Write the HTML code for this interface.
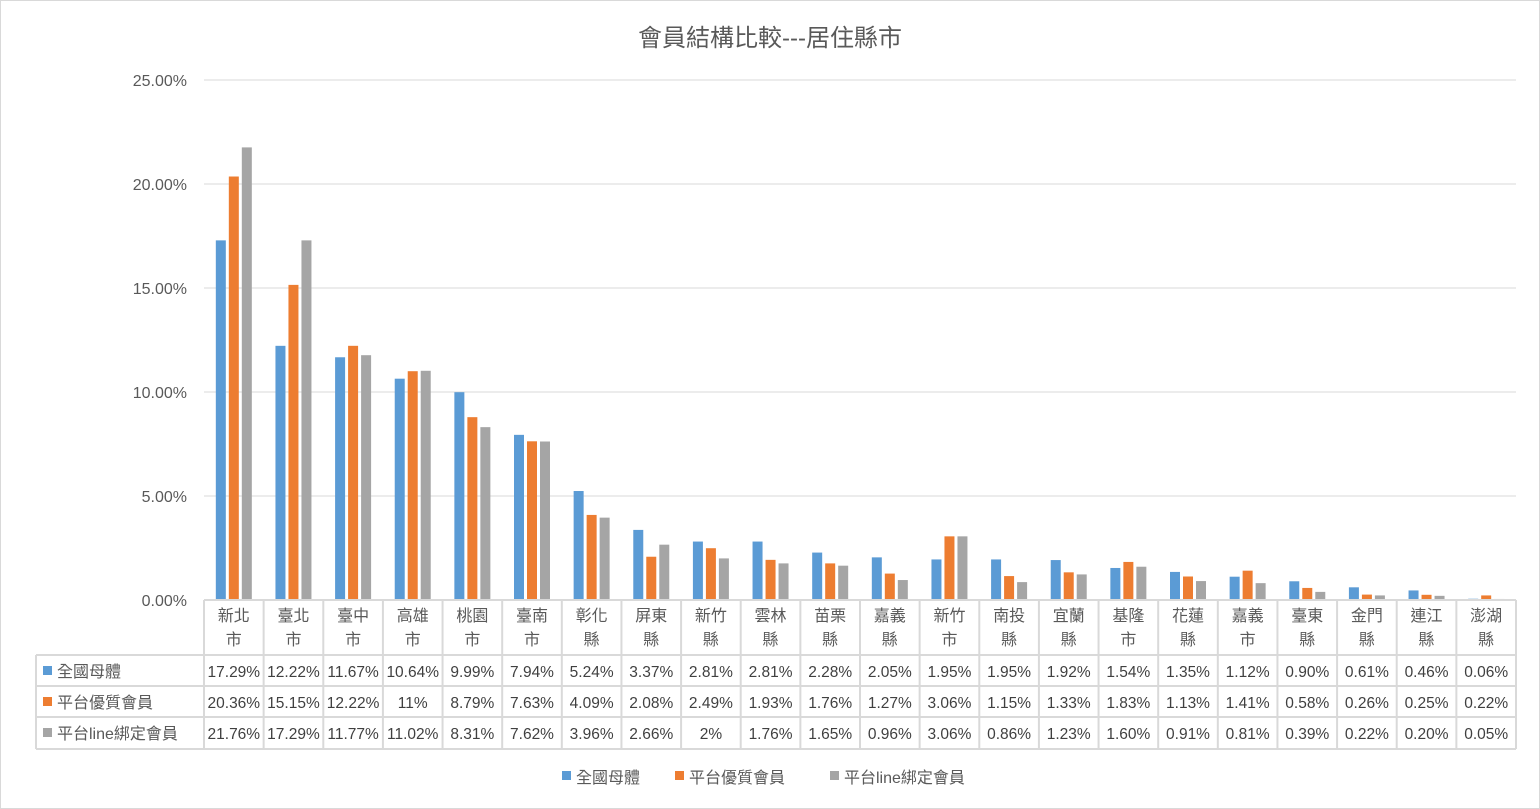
<!DOCTYPE html>
<html><head><meta charset="utf-8">
<style>
html,body{margin:0;padding:0;background:#fff;}
svg{display:block;font-family:"Liberation Sans","Noto Sans CJK TC",sans-serif;}
</style></head>
<body>
<svg id="chart" width="1540" height="809" viewBox="0 0 1540 809">
<rect x="0.5" y="0.5" width="1539" height="808" fill="#fff" stroke="#d9d9d9"/>
<text x="770" y="46" text-anchor="middle" font-size="24" fill="#595959">會員結構比較---居住縣市</text>
<g id="grid"></g><g id="bars"></g><g id="table"></g><g id="legend"></g>
</svg>
<script>
const categories=[["新北","市"],["臺北","市"],["臺中","市"],["高雄","市"],["桃園","市"],["臺南","市"],["彰化","縣"],["屏東","縣"],["新竹","縣"],["雲林","縣"],["苗栗","縣"],["嘉義","縣"],["新竹","市"],["南投","縣"],["宜蘭","縣"],["基隆","市"],["花蓮","縣"],["嘉義","市"],["臺東","縣"],["金門","縣"],["連江","縣"],["澎湖","縣"]];
const seriesNames=["全國母體","平台優質會員","平台line綁定會員"];
const s1=[17.29,12.22,11.67,10.64,9.99,7.94,5.24,3.37,2.81,2.81,2.28,2.05,1.95,1.95,1.92,1.54,1.35,1.12,0.90,0.61,0.46,0.06];
const s2=[20.36,15.15,12.22,11,8.79,7.63,4.09,2.08,2.49,1.93,1.76,1.27,3.06,1.15,1.33,1.83,1.13,1.41,0.58,0.26,0.25,0.22];
const s3=[21.76,17.29,11.77,11.02,8.31,7.62,3.96,2.66,2,1.76,1.65,0.96,3.06,0.86,1.23,1.60,0.91,0.81,0.39,0.22,0.20,0.05];
const l1=["17.29%","12.22%","11.67%","10.64%","9.99%","7.94%","5.24%","3.37%","2.81%","2.81%","2.28%","2.05%","1.95%","1.95%","1.92%","1.54%","1.35%","1.12%","0.90%","0.61%","0.46%","0.06%"];
const l2=["20.36%","15.15%","12.22%","11%","8.79%","7.63%","4.09%","2.08%","2.49%","1.93%","1.76%","1.27%","3.06%","1.15%","1.33%","1.83%","1.13%","1.41%","0.58%","0.26%","0.25%","0.22%"];
const l3=["21.76%","17.29%","11.77%","11.02%","8.31%","7.62%","3.96%","2.66%","2%","1.76%","1.65%","0.96%","3.06%","0.86%","1.23%","1.60%","0.91%","0.81%","0.39%","0.22%","0.20%","0.05%"];
const yTicks=[0,5,10,15,20,25];
const yTickLabels=["0.00%","5.00%","10.00%","15.00%","20.00%","25.00%"];
const colors=["#5b9bd5","#ed7d31","#a5a5a5"];
const NS="http://www.w3.org/2000/svg";
const X0=204,X1=1516,Y0=600,YT=80,YMAX=25;
const cw=(X1-X0)/categories.length;
const y=v=>Y0-(v/YMAX)*(Y0-YT);
const xc=i=>X0+cw*(i+0.5);
function mk(tag,attrs,parent,text){const e=document.createElementNS(NS,tag);for(const k in attrs)e.setAttribute(k,attrs[k]);if(text!=null)e.textContent=text;parent.appendChild(e);return e;}
const grid=document.getElementById('grid');
yTicks.forEach((t,i)=>{
  if(t>0){const g=mk('line',{x1:X0,x2:X1,y1:y(t),y2:y(t),stroke:'#d9d9d9','stroke-width':1},grid);
  
  }
  const tx=mk('text',{x:187,y:y(t)+6,'text-anchor':'end','font-size':16,fill:'#595959'},grid,yTickLabels[i]);
  
  
});
const bars=document.getElementById('bars');
const series=[s1,s2,s3];const bw=10,gap=3;
series.forEach((s,si)=>{s.forEach((v,i)=>{
  const x=xc(i)-1.5*bw-gap+si*(bw+gap);
  const r=mk('rect',{x:x,y:y(v),width:bw,height:Y0-y(v),fill:colors[si]},bars);
  
  
});});
const tb=document.getElementById('table');
const TL=36,rows=[655,686,717,749];
const st={stroke:'#d9d9d9','stroke-width':2};
mk('line',Object.assign({x1:X0,x2:X1,y1:Y0,y2:Y0},st),tb);
rows.forEach(r=>mk('line',Object.assign({x1:TL,x2:X1,y1:r,y2:r},st),tb));
mk('line',Object.assign({x1:TL,x2:TL,y1:655,y2:749},st),tb);
for(let i=0;i<=categories.length;i++){mk('line',Object.assign({x1:X0+cw*i,x2:X0+cw*i,y1:Y0,y2:749},st),tb);}
categories.forEach((c,i)=>{
  const a=mk('text',{x:xc(i),y:621,'text-anchor':'middle','font-size':16,fill:'#595959'},tb,c[0]);
  
  
  const b=mk('text',{x:xc(i),y:645,'text-anchor':'middle','font-size':16,fill:'#595959'},tb,c[1]);
  
  
});
[l1,l2,l3].forEach((L,ri)=>{
  const cy=rows[ri]+22;
  const sq=mk('rect',{x:43,y:rows[ri]+11,width:9,height:9,fill:colors[ri]},tb);
  
  
  const nm=mk('text',{x:57,y:cy,'font-size':16,fill:'#595959'},tb,seriesNames[ri]);
  
  
  L.forEach((t,i)=>{const e=mk('text',{x:xc(i),y:cy,'text-anchor':'middle','font-size':15.5,fill:'#404040'},tb,t);
  
  });
});
const lg=document.getElementById('legend');
const lx=[562,675,830];
seriesNames.forEach((n,i)=>{
  const r=mk('rect',{x:lx[i],y:771,width:9,height:9,fill:colors[i]},lg);
  
  
  const t=mk('text',{x:lx[i]+14,y:783,'font-size':16,fill:'#595959'},lg,n);
  
  
});
</script>
</body></html>
